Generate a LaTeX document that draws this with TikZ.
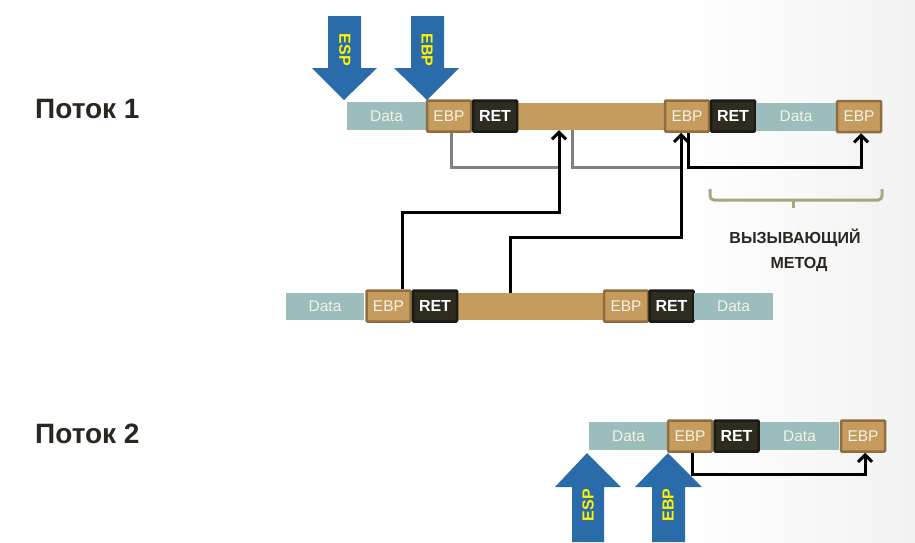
\documentclass[tikz,border=0pt]{standalone}
\usepackage{fontspec}
\setmainfont{Liberation Sans}
\usetikzlibrary{arrows.meta}
\definecolor{dataC}{HTML}{9BBDBB}
\definecolor{tanC}{HTML}{C69C5E}
\definecolor{tanB}{HTML}{8E6E40}
\definecolor{retC}{HTML}{2E2B20}
\definecolor{retB}{HTML}{1C1A14}
\definecolor{blueC}{HTML}{2A6BAA}
\definecolor{braceC}{HTML}{A9A580}
\definecolor{txtC}{HTML}{2B2620}
\definecolor{boxtxt}{HTML}{F4F1E6}
\definecolor{grayL}{HTML}{808080}
\pgfdeclarehorizontalshading{bgshade}{100bp}{color(0bp)=(white); color(62bp)=(white); color(100bp)=(black!15)}
\begin{document}
\begin{tikzpicture}[x=1pt,y=-1pt,
  cell/.style={inner sep=0, minimum height=28, text=boxtxt, font=\fontsize{15.5}{16}\selectfont},
  databox/.style={cell, fill=dataC, minimum width=79},
  ebpbox/.style={cell, fill=tanC, draw=tanB, line width=2.5pt, rounded corners=1pt, minimum width=44, minimum height=31},
  retbox/.style={cell, fill=retC, draw=retB, line width=2.5pt, rounded corners=1pt, minimum width=44, minimum height=31, text=white, font=\bfseries\fontsize{16}{16}\selectfont},
  barbox/.style={inner sep=0, fill=tanC, minimum height=27},
  link/.style={line width=3pt, black, -{Straight Barb[length=7pt,width=14pt]}},
  glink/.style={line width=3pt, grayL},
  bigarrow/.style={fill=blueC},
  arrowtxt/.style={inner sep=0, text=yellow, font=\bfseries\fontsize{16}{16}\selectfont},
  title/.style={inner sep=0, text=txtC, font=\bfseries\fontsize{28}{30}\selectfont},
  caption/.style={inner sep=0, text=txtC, font=\bfseries\fontsize{16}{18}\selectfont}
]
\useasboundingbox (0,0) rectangle (915,542);
\shade[shading=bgshade] (0,0) rectangle (915,542);

% titles
\node[title, anchor=base west] (t1) at (35,118) {Поток 1};
\node[title, anchor=base west] (t2) at (35,443) {Поток 2};

% row 1
\node[databox] (d1a) at (386.5,116) {Data};
\node[barbox, minimum width=148] (bar1) at (591,116.5) {};
\node[ebpbox] (e1a) at (449,116) {EBP};
\node[retbox] (r1a) at (495,116) {RET};
\node[ebpbox] (e1b) at (687,116) {EBP};
\node[retbox] (r1b) at (733,116) {RET};
\node[databox, minimum width=80] (d1b) at (796,116.5) {Data};
\node[ebpbox] (e1c) at (859,116.5) {EBP};

% row 2
\node[databox, minimum width=78, minimum height=27] (d2a) at (325,306) {Data};
\node[barbox, minimum width=147] (bar2) at (530.5,306.5) {};
\node[ebpbox] (e2a) at (388.5,306) {EBP};
\node[retbox] (r2a) at (435,306) {RET};
\node[ebpbox] (e2b) at (626,306) {EBP};
\node[retbox] (r2b) at (671.5,306) {RET};
\node[databox, minimum height=27] (d2b) at (733.5,306) {Data};

% row 3
\node[databox] (d3a) at (628.5,436) {Data};
\node[databox] (d3b) at (799.5,436) {Data};
\node[ebpbox] (e3a) at (690,436) {EBP};
\node[retbox] (r3a) at (736.5,436) {RET};
\node[ebpbox] (e3b) at (863,436) {EBP};

% gray links
\draw[glink] ([xshift=2pt]e1a.south) |- ([xshift=-32pt,yshift=-37pt]bar1.south);
\draw[glink] ([xshift=-19pt]bar1.south) |- ([xshift=-6pt,yshift=-35pt]e1b.south);

% black links
\draw[link] ([xshift=13.5pt]e2a.north) -- ++(0,-77) -| ([xshift=-32pt]bar1.south);
\draw[link] ([xshift=-20.5pt]bar2.north) -- ++(0,-55) -| ([xshift=-6pt]e1b.south);
\draw[link] ([xshift=1pt]e1b.south) -- ++(0,35) -| ([xshift=2pt]e1c.south);
\draw[link] ([xshift=2pt]e3a.south) -- ++(0,22) -| ([xshift=2pt]e3b.south);

% brace
\draw[braceC, line width=3pt, rounded corners=4pt] (710,189) -- (710,200) -- (882,200) -- (882,189);
\draw[braceC, line width=3pt] (793,200) -- (793,208);
\node[caption, anchor=base] (cap1) at (795,243) {ВЫЗЫВАЮЩИЙ};
\node[caption, anchor=base] (cap2) at (799,268) {МЕТОД};

% big arrows top
\fill[bigarrow] (328,16) -- (361,16) -- (361,68) -- (377,68) -- (344,100) -- (312,68) -- (328,68) -- cycle;
\node[arrowtxt, rotate=-90] (espT) at (345,50) {ESP};
\fill[bigarrow] (411,16) -- (444,16) -- (444,68) -- (459,68) -- (427,100) -- (394,68) -- (411,68) -- cycle;
\node[arrowtxt, rotate=-90] (ebpT) at (427,50) {EBP};

% big arrows bottom
\fill[bigarrow] (572,542) -- (604,542) -- (604,487) -- (621,487) -- (587,453) -- (555,487) -- (572,487) -- cycle;
\node[arrowtxt, rotate=90] (espB) at (588,505) {ESP};
\fill[bigarrow] (652,542) -- (685,542) -- (685,487) -- (702,487) -- (668,453) -- (635,487) -- (652,487) -- cycle;
\node[arrowtxt, rotate=90] (ebpB) at (668,505) {EBP};
\end{tikzpicture}
\end{document}
